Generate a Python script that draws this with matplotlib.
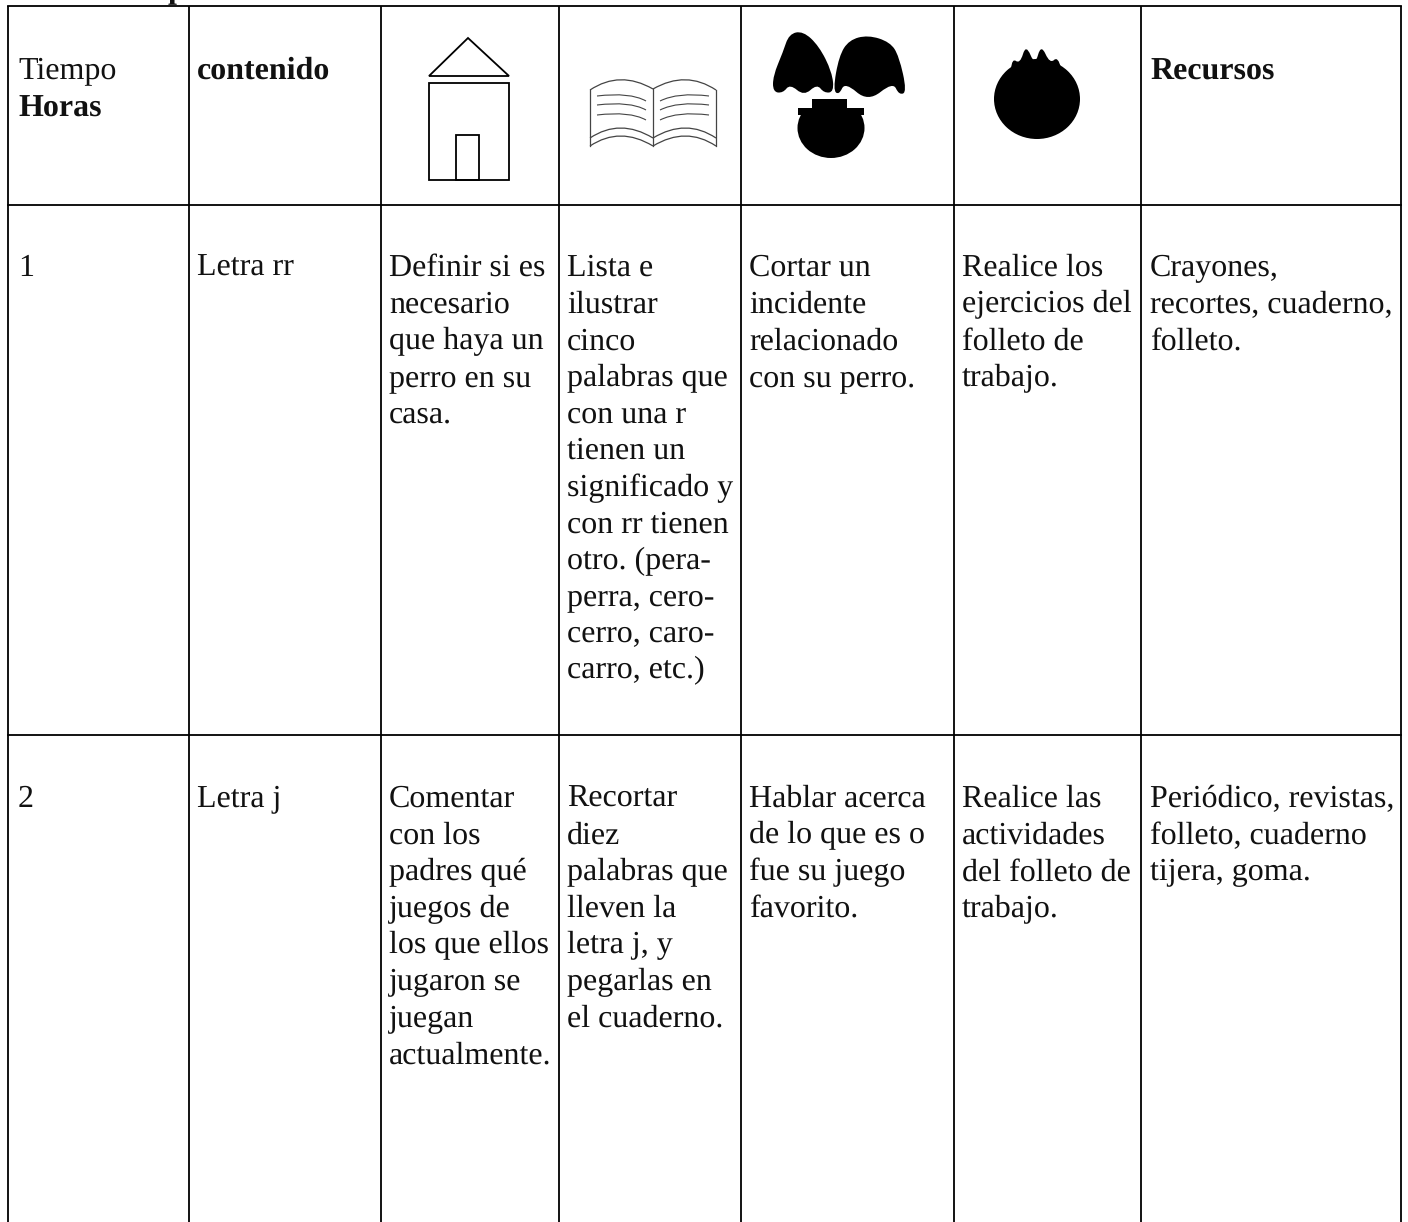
# Tabla de planificacion, dibujada en coordenadas de pixel
import matplotlib
matplotlib.use('Agg')
import matplotlib.pyplot as plt
from matplotlib.patches import Polygon, Rectangle, Ellipse, PathPatch
from matplotlib.path import Path

plt.rcParams['font.family'] = ['Liberation Serif', 'DejaVu Serif']
plt.rcParams['text.hinting'] = 'no_hinting'

W, H = 1408, 1222
col_lines = [8, 189, 381, 559, 741, 954, 1141, 1401]
row_lines = [6, 205, 735]
col_text = [18, 197, 389, 567, 749, 962, 1150]

header_y = 79
row1_y = 276
row2_y = 807
step = 36.6

# celdas por columna
row1 = [
    ["1"],
    ["Letra rr"],
    ["Definir si es", "necesario", "que haya un", "perro en su", "casa."],
    ["Lista e", "ilustrar", "cinco", "palabras que", "con una r", "tienen un",
     "significado y", "con rr tienen", "otro. (pera-", "perra, cero-",
     "cerro, caro-", "carro, etc.)"],
    ["Cortar un", "incidente", "relacionado", "con su perro."],
    ["Realice los", "ejercicios del", "folleto de", "trabajo."],
    ["Crayones,", "recortes, cuaderno,", "folleto."],
]
row2 = [
    ["2"],
    ["Letra j"],
    ["Comentar", "con los", "padres qué", "juegos de", "los que ellos",
     "jugaron se", "juegan", "actualmente."],
    ["Recortar", "diez", "palabras que", "lleven la", "letra j, y",
     "pegarlas en", "el cuaderno."],
    ["Hablar acerca", "de lo que es o", "fue su juego", "favorito."],
    ["Realice las", "actividades", "del folleto de", "trabajo."],
    ["Periódico, revistas,", "folleto, cuaderno", "tijera, goma."],
]

fig = plt.figure(figsize=(W / 100, H / 100), dpi=100)
ax = fig.add_axes([0, 0, 1, 1])
ax.set_xlim(0, W)
ax.set_ylim(H, 0)
ax.axis('off')

# rejilla
for x in col_lines:
    ax.plot([x, x], [row_lines[0], H], color='black', lw=1.3, solid_capstyle='butt')
for y in row_lines:
    ax.plot([col_lines[0], col_lines[-1]], [y, y], color='black', lw=1.3, solid_capstyle='projecting')


def cell(x, y, s, bold=False):
    ax.text(x, y, s, fontsize=23, va='baseline', ha='left',
            fontweight='bold' if bold else 'normal', color='#111111')


# titulo cortado arriba
cell(168, -3, "p", bold=True)

# encabezados
cell(col_text[0], header_y, "Tiempo")
cell(col_text[0], header_y + step + 1, "Horas", bold=True)
cell(col_text[1], header_y, "contenido", bold=True)
cell(col_text[6], header_y + 1, "Recursos", bold=True)

for base, row in [(row1_y, row1), (row2_y, row2)]:
    for x, lines in zip(col_text, row):
        for i, s in enumerate(lines):
            cell(x, base + i * step, s)

# casa
ax.add_patch(Polygon([(429, 76), (468, 38), (509, 76)], closed=True, fill=False, ec='black', lw=1.3))
ax.add_patch(Rectangle((429, 83), 80, 97, fill=False, ec='black', lw=1.3))
ax.add_patch(Rectangle((456, 135), 23, 45, fill=False, ec='black', lw=1.3))

# libro
C3, C4, L, M = Path.CURVE3, Path.CURVE4, Path.LINETO, Path.MOVETO
book = '#444444'


def bline(pts, lw=0.8):
    ax.add_patch(PathPatch(Path(pts, [M, C3, C3]), fill=False, ec=book, lw=lw))


# hojas y lomo
bline([(590, 90), (620, 70), (653, 89)], lw=0.9)
bline([(653, 89), (686, 70), (716, 90)], lw=0.9)
ax.plot([590, 590], [90, 146], color=book, lw=0.9)
ax.plot([716, 716], [90, 146], color=book, lw=0.9)
ax.plot([653, 653], [89, 146], color=book, lw=0.9)
# base del libro
bline([(590, 138), (620, 118), (653, 138)], lw=0.9)
bline([(653, 138), (686, 118), (716, 138)], lw=0.9)
bline([(590, 146), (620, 126), (653, 146)], lw=0.9)
bline([(653, 146), (686, 126), (716, 146)], lw=0.9)
# renglones
for y in [96, 105, 115]:
    bline([(597, y), (630, y - 4), (646, y + 5)])
    bline([(660, y + 5), (678, y - 4), (709, y)])


# contorno suave a partir de un poligono de control
def blob(pts):
    mids = [((a[0] + b[0]) / 2, (a[1] + b[1]) / 2) for a, b in zip(pts, pts[1:] + pts[:1])]
    verts = [mids[-1]]
    codes = [M]
    for p, m in zip(pts, mids):
        verts += [p, m]
        codes += [C3, C3]
    ax.add_patch(PathPatch(Path(verts, codes), fc='black', ec='none'))


# gorros
blob([(803, 31), (819, 46), (832, 72), (834, 92), (824, 93), (817, 84), (804, 96),
      (790, 84), (783, 93), (773, 92), (773, 76), (783, 52), (789, 34)])
blob([(868, 35), (890, 42), (899, 56), (907, 92), (899, 95), (893, 82), (868, 102),
      (845, 82), (839, 95), (833, 90), (839, 56), (849, 40)])
body = Ellipse((831, 128), 67, 60, fc='black', ec='none')
ax.add_patch(body)
body.set_clip_path(Rectangle((790, 112), 85, 50, transform=ax.transData))
ax.add_patch(Rectangle((812, 99), 35, 10, fc='black', ec='none'))
ax.add_patch(Rectangle((798, 108), 66, 7, fc='black', ec='none'))

# fruta
ax.add_patch(Ellipse((1037, 99), 86, 80, fc='black', ec='none'))
blob([(1010, 80), (1012, 58), (1020, 64), (1026, 44), (1035, 66), (1041, 44),
      (1050, 64), (1058, 56), (1064, 80)])

fig.savefig('out.png', dpi=100, facecolor='white')
